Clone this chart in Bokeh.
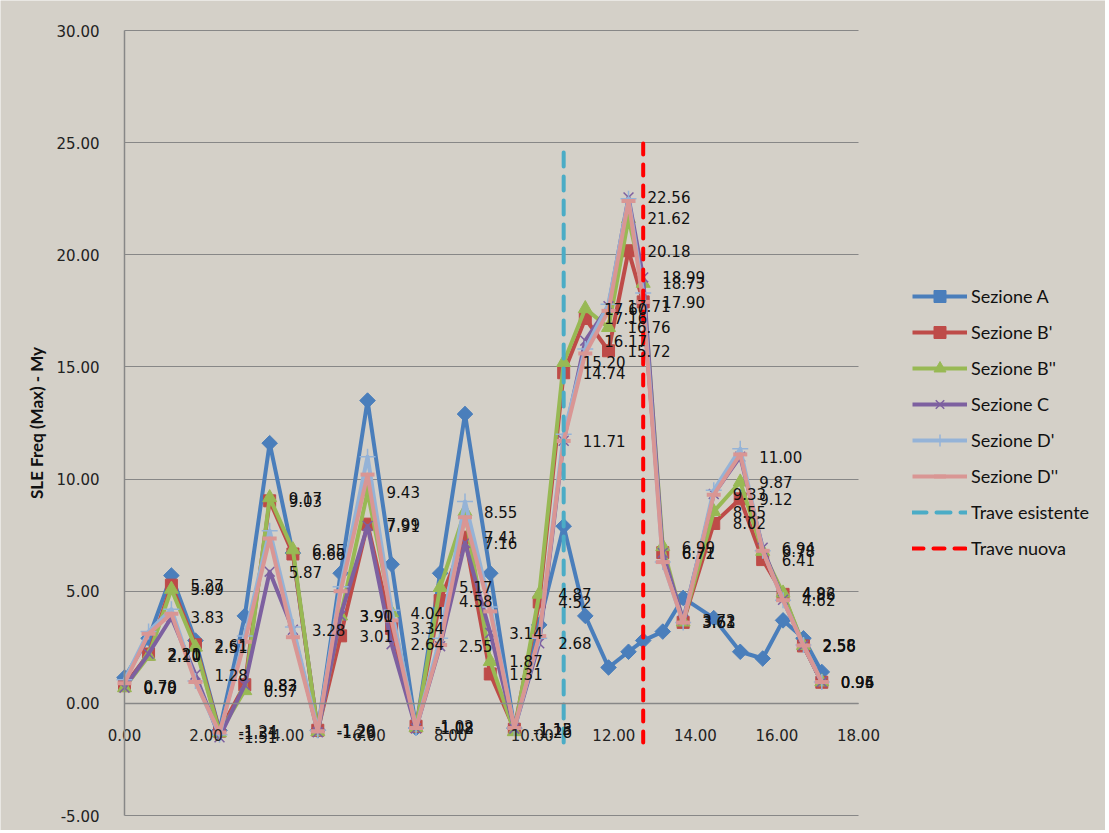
from bokeh.plotting import figure
from bokeh.models import (Range1d, FixedTicker, NumeralTickFormatter, Legend,
                          LegendItem, ColumnDataSource)
from bokeh.core.properties import value
from bokeh.embed import file_html
from bokeh.resources import INLINE

# ---------------- data ----------------
x_pos = [0.00, 0.59, 1.15, 1.74, 2.33, 2.95, 3.56, 4.13, 4.74, 5.30, 5.96,
         6.55, 7.15, 7.74, 8.35, 8.97, 9.56, 10.17, 10.77, 11.30, 11.87,
         12.36, 12.72, 13.20, 13.70, 14.45, 15.10, 15.65, 16.15, 16.65, 17.10]

sezione_a = [1.15, 2.90, 5.70, 2.80, -1.20, 3.90, 11.60, 6.70, -1.20, 5.80, 13.50,
             6.20, -1.10, 5.80, 12.90, 5.80, -1.10, 3.50, 7.90, 3.90, 1.60,
             2.30, 2.80, 3.20, 4.70, 3.80, 2.30, 2.00, 3.70, 2.90, 1.40]

sezione_b1 = [0.79, 2.20, 5.27, 2.61, -1.24, 0.83, 9.03, 6.66, -1.20, 3.01, 7.99,
              3.34, -1.02, 4.58, 7.41, 1.31, -1.15, 4.52, 14.74, 17.16, 15.72,
              20.18, 17.90, 6.72, 3.61, 8.02, 9.12, 6.41, 4.86, 2.56, 0.94]

sezione_b2 = [0.70, 2.10, 5.09, 2.51, -1.31, 0.57, 9.17, 6.85, -1.26, 3.90, 9.43,
              4.04, -1.08, 5.17, 8.55, 1.87, -1.26, 4.87, 15.20, 17.60, 16.76,
              21.62, 18.73, 6.99, 3.63, 8.55, 9.87, 6.78, 4.92, 2.58, 0.96]

sezione_c = [0.70, 2.21, 3.83, 1.28, -1.51, 0.82, 5.87, 3.28, -1.29, 3.91, 7.91,
             2.64, -1.12, 2.55, 7.16, 3.14, -1.13, 2.68, 11.71, 16.17, 17.71,
             22.56, 18.99, 6.71, 3.72, 9.33, 11.00, 6.94, 4.62, 2.58, 0.95]

sezione_d1 = [1.05, 3.20, 4.20, 1.00, -1.40, 3.00, 7.70, 3.40, -1.20, 5.20, 11.00,
              4.15, -1.10, 2.90, 9.00, 4.30, -1.10, 2.90, 12.00, 15.80, 17.80,
              22.50, 18.30, 6.30, 3.60, 9.50, 11.35, 6.80, 4.60, 2.60, 0.95]

sezione_d2 = [0.90, 3.10, 4.00, 0.95, -1.30, 2.75, 7.35, 2.95, -1.25, 5.00, 10.20,
              3.70, -1.10, 2.60, 8.30, 4.10, -1.10, 3.00, 11.70, 15.60, 17.50,
              22.40, 17.90, 6.30, 3.60, 9.30, 11.10, 6.80, 4.60, 2.58, 0.95]

trave_esistente_x = [10.77, 10.77]
trave_nuova_x = [12.72, 12.72]
trave_y = [-1.75, 25.0]

x_ticks = [0, 2, 4, 6, 8, 10, 12, 14, 16, 18]
y_ticks = [-5, 0, 5, 10, 15, 20, 25, 30]
x_bounds = (0, 18)
y_bounds = (-5, 30)
y_title = "SLE Freq (Max) - My"

# ---------------- layout ----------------
W, H = 1105, 830
PX_LEFT, PX_RIGHT, PX_TOP, PX_BOTTOM = 124.0, 858.0, 30.0, 815.0
sx = (PX_RIGHT - PX_LEFT) / (x_bounds[1] - x_bounds[0])
sy = (PX_BOTTOM - PX_TOP) / (y_bounds[1] - y_bounds[0])
xr = Range1d(x_bounds[0] - PX_LEFT / sx, x_bounds[1] + (W - PX_RIGHT) / sx)
yr = Range1d(y_bounds[0] - (H - PX_BOTTOM) / sy, y_bounds[1] + PX_TOP / sy)

BG = "#D4D0C8"
GRID = "#878787"

p = figure(width=W, height=H, x_range=xr, y_range=yr,
           output_backend="svg", toolbar_location=None,
           min_border_left=0, min_border_right=0, min_border_top=0,
           min_border_bottom=0, background_fill_color=BG, border_fill_color=BG)
p.outline_line_color = None

# axes (drawn inside the frame at fixed positions)
p.xaxis.fixed_location = 0
p.yaxis.fixed_location = 0
p.xaxis.bounds = x_bounds
p.yaxis.bounds = y_bounds
p.xaxis.ticker = FixedTicker(ticks=x_ticks)
p.xaxis.formatter = NumeralTickFormatter(format="0.00")
p.yaxis.ticker = FixedTicker(ticks=y_ticks)
p.yaxis.formatter = NumeralTickFormatter(format="0.00")
for ax in (p.xaxis, p.yaxis):
    ax.axis_line_color = GRID
    ax.axis_line_width = 1.5
    ax.major_tick_line_color = None
    ax.minor_tick_line_color = None
    ax.major_label_text_font = "DejaVu Sans"
    ax.major_label_text_font_size = "15px"
    ax.major_label_text_color = "#222222"
p.xaxis.major_label_standoff = 20
p.yaxis.major_label_standoff = 19
p.yaxis.axis_label = y_title
p.yaxis.axis_label_text_font = "Lato"
p.yaxis.axis_label_text_font_style = "bold"
p.yaxis.axis_label_text_font_size = "17px"
p.yaxis.axis_label_text_color = "#111111"
p.yaxis.axis_label_standoff = 7

p.xgrid.visible = False
try:
    p.ygrid.ticker = FixedTicker(ticks=y_ticks)
    p.ygrid.cross_bounds = x_bounds
    p.ygrid.grid_line_color = GRID
    p.ygrid.grid_line_width = 1
except Exception:
    p.ygrid.visible = False
    p.segment(x0=[x_bounds[0]] * len(y_ticks), x1=[x_bounds[1]] * len(y_ticks),
              y0=y_ticks, y1=y_ticks, line_color=GRID, line_width=1)

series = [
    ("Sezione A", sezione_a, "#4A7EBB", "square", 11, 0.7854, 1, False),
    ("Sezione B'", sezione_b1, "#BE4B48", "square", 12, 0, 1, True),
    ("Sezione B''", sezione_b2, "#98B954", "triangle", 14, 0, 1, True),
    ("Sezione C", sezione_c, "#7D60A0", "x", 14, 0, 1.5, True),
    ("Sezione D'", sezione_d1, "#95B3D7", "cross", 16, 0, 1.5, False),
    ("Sezione D''", sezione_d2, "#D99694", "dash", 14, 0, 4, False),
]

items = []
for name, vals, col, mk, sz, ang, mlw, _lab in series:
    src = ColumnDataSource(dict(x=x_pos, y=vals))
    lr = p.line("x", "y", source=src, line_color=col, line_width=4, line_join="round")
    sr = p.scatter("x", "y", source=src, marker=mk, size=sz, angle=ang,
                   fill_color=col, line_color=col, line_width=mlw)
    items.append(LegendItem(label=name, renderers=[lr, sr]))

te = p.line(trave_esistente_x, trave_y, line_color="#4BACC6", line_width=4,
            line_dash="14 10", line_cap="round")
tn = p.line(trave_nuova_x, trave_y, line_color="#FF0000", line_width=4,
            line_dash="11 10", line_cap="round")
items.append(LegendItem(label="Trave esistente", renderers=[te]))
items.append(LegendItem(label="Trave nuova", renderers=[tn]))

# data labels (B', B'', C)
for name, vals, col, mk, sz, ang, mlw, lab in series:
    if not lab:
        continue
    src = ColumnDataSource(dict(x=x_pos, y=vals, t=["%.2f" % v for v in vals]))
    p.text("x", "y", text="t", source=src, x_offset=19, text_baseline="middle",
           text_align="left", text_font=value("DejaVu Sans"), text_font_size="15px",
           text_color="#111111")

legend = Legend(items=items, location=(912, 267), padding=0, margin=0, spacing=6,
                glyph_width=55, glyph_height=30, label_height=30, label_standoff=4,
                label_text_font="Lato", label_text_font_size="18px",
                label_text_color="#111111", background_fill_alpha=0,
                border_line_color=None)
p.add_layout(legend)

html = file_html(p, INLINE)
html = html.replace("<body>", '<body style="background-color:%s;">' % BG, 1)
open("out.html", "w").write(html)
